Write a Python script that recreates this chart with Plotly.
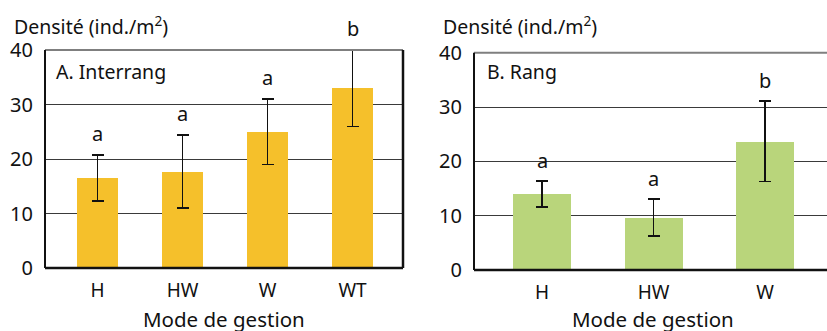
import plotly.graph_objects as go

# Data
cats_a = ["H", "HW", "W", "WT"]
vals_a = [16.5, 17.7, 25.0, 33.0]
err_a = [4.2, 6.7, 6.0, 7.0]
letters_a = ["a", "a", "a", "b"]

cats_b = ["H", "HW", "W"]
vals_b = [14.0, 9.7, 23.7]
err_b = [2.4, 3.4, 7.4]
letters_b = ["a", "a", "b"]

y_ticks = [0, 10, 20, 30, 40]
FONT = "Noto Sans"
W, H = 827, 331


def px(x):
    return x / W


def py(y):
    return 1 - y / H


fig = go.Figure()
fig.add_trace(go.Bar(x=cats_a, y=vals_a, width=0.48, marker_color="#F5C02B",
                     error_y=dict(type="data", array=err_a, color="#111", thickness=1.5, width=6),
                     xaxis="x", yaxis="y", showlegend=False))
fig.add_trace(go.Bar(x=cats_b, y=vals_b, width=0.52, marker_color="#B9D57B",
                     error_y=dict(type="data", array=err_b, color="#111", thickness=1.5, width=6),
                     xaxis="x2", yaxis="y2", showlegend=False))

dom_xa = [px(45), px(403)]
dom_ya = [py(268), py(50)]
dom_xb = [px(474), 1.0]
dom_yb = [py(270), py(52.7)]

yax = dict(range=[0, 40], tickvals=y_ticks, showgrid=True, gridcolor="#3a3a3a", gridwidth=1,
           zeroline=False, showline=False, tickfont=dict(family=FONT, size=20, color="#111"),
           ticklabelstandoff=11, automargin=False)
xax = dict(type="category", showgrid=False, zeroline=False, showline=False,
           tickfont=dict(family=FONT, size=19, color="#111"), ticklabelstandoff=9, automargin=False)

fig.update_layout(
    template="none",
    width=W, height=H, margin=dict(l=0, r=0, t=0, b=0, autoexpand=False),
    paper_bgcolor="white", plot_bgcolor="white", showlegend=False,
    xaxis=dict(**xax, domain=dom_xa, range=[-0.618, 3.594], anchor="y"),
    yaxis=dict(**yax, domain=dom_ya, anchor="x"),
    xaxis2=dict(**xax, domain=dom_xb, range=[-0.61, 2.556], anchor="y2"),
    yaxis2=dict(**yax, domain=dom_yb, anchor="x2"),
    bargap=0,
)

shapes = []
for xr, yr, right in [("x domain", "y domain", True), ("x2 domain", "y2 domain", False)]:
    shapes.append(dict(type="line", xref=xr, yref=yr, x0=0, x1=1, y0=1, y1=1,
                       line=dict(color="#7f7f7f", width=2)))
    shapes.append(dict(type="line", xref=xr, yref=yr, x0=0, x1=0, y0=0, y1=1,
                       line=dict(color="#111", width=2)))
    shapes.append(dict(type="line", xref=xr, yref=yr, x0=0, x1=1, y0=0, y1=0,
                       line=dict(color="#111", width=2.5)))
    if right:
        shapes.append(dict(type="line", xref=xr, yref=yr, x0=1, x1=1, y0=0, y1=1,
                           line=dict(color="#111", width=2.5)))
fig.update_layout(shapes=shapes)

ann = []
for c, v, e, l in zip(cats_a, vals_a, err_a, letters_a):
    ann.append(dict(x=c, y=v + e, xref="x", yref="y", text=l, showarrow=False,
                    yanchor="bottom", yshift=6, font=dict(family=FONT, size=20, color="#111")))
for c, v, e, l in zip(cats_b, vals_b, err_b, letters_b):
    ann.append(dict(x=c, y=v + e, xref="x2", yref="y2", text=l, showarrow=False,
                    yanchor="bottom", yshift=5, font=dict(family=FONT, size=20, color="#111")))

txt = dict(showarrow=False, xref="paper", yref="paper", font=dict(family=FONT, size=19.5, color="#111"))
ann.append(dict(**txt, x=px(12), y=py(25), xanchor="left", yanchor="middle",
                text="Densité (ind./m<sup>2</sup>)"))
ann.append(dict(**txt, x=px(441), y=py(25), xanchor="left", yanchor="middle",
                text="Densité (ind./m<sup>2</sup>)"))
ann.append(dict(**txt, x=px(54), y=py(71), xanchor="left", yanchor="middle", text="A. Interrang"))
ann.append(dict(**txt, x=px(485), y=py(71), xanchor="left", yanchor="middle", text="B. Rang"))
ttl = dict(showarrow=False, xref="paper", yref="paper", font=dict(family=FONT, size=20.5, color="#111"))
ann.append(dict(**ttl, x=px(224), y=py(319), xanchor="center", yanchor="middle", text="Mode de gestion"))
ann.append(dict(**ttl, x=px(653), y=py(319), xanchor="center", yanchor="middle", text="Mode de gestion"))
fig.update_layout(annotations=ann)

fig.write_html("out.html", config={"displayModeBar": False},
               post_script="document.body.style.margin='0';document.body.style.overflow='hidden';")
